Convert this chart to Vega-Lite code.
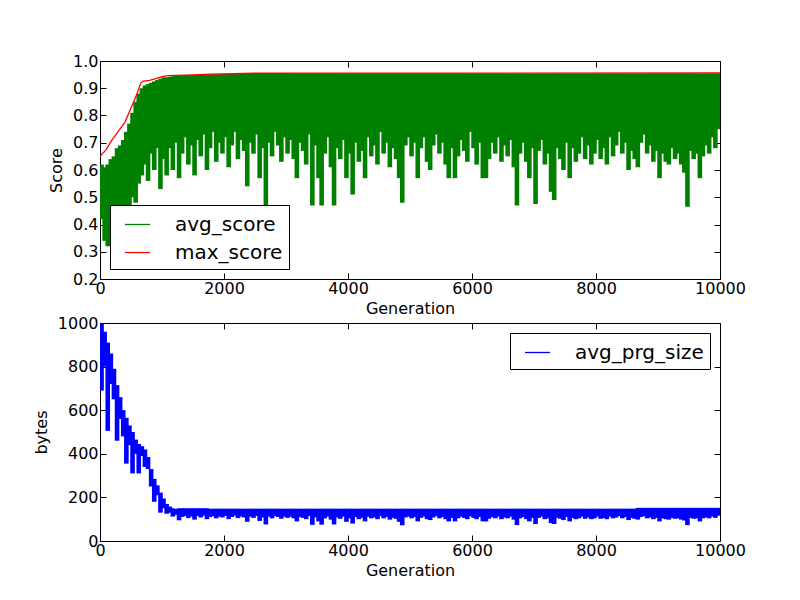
{
"$schema": "https://vega.github.io/schema/vega-lite/v6.json",
"padding": {"left": 32, "top": 52, "right": 0, "bottom": 0},
"background": "white",
"spacing": 44,
"bounds": "flush",
"config": {
  "font": "DejaVu Sans",
  "view": {"stroke": "black", "strokeWidth": 1},
  "axis": {"grid": false, "domain": false, "tickColor": "black", "tickSize": -6, "tickWidth": 1, "labelFont": "DejaVu Sans", "labelFontSize": 16, "labelColor": "black", "labelPadding": 8, "labelFlush": false, "labelOverlap": false, "titleFont": "DejaVu Sans", "titleFontSize": 16, "titleFontWeight": "normal", "titleColor": "black"},
  "axisX": {"labelPadding": 7, "titlePadding": 4},
  "axisY": {"titlePadding": 8},
  "legend": {"strokeColor": "black", "fillColor": "white", "cornerRadius": 0, "padding": 6, "labelFont": "DejaVu Sans", "labelFontSize": 20, "labelColor": "black", "labelOffset": 24, "symbolType": "stroke", "symbolSize": 625, "symbolStrokeWidth": 1.3, "symbolOffset": 8, "rowPadding": 4, "title": null, "offset": 10}
},
"resolve": {"scale": {"x": "independent", "y": "independent", "color": "independent"}, "legend": {"color": "independent"}},
"datasets": {
"d": [
{"g":25,"lo":0.42,"hi":0.62,"pl":690,"ph":995},
{"g":75,"lo":0.34,"hi":0.61,"pl":800,"ph":960},
{"g":125,"lo":0.32,"hi":0.62,"pl":505,"ph":910},
{"g":175,"lo":0.38,"hi":0.64,"pl":720,"ph":860},
{"g":225,"lo":0.36,"hi":0.65,"pl":650,"ph":790},
{"g":275,"lo":0.42,"hi":0.68,"pl":460,"ph":715},
{"g":325,"lo":0.40,"hi":0.69,"pl":560,"ph":660},
{"g":375,"lo":0.45,"hi":0.71,"pl":480,"ph":600},
{"g":425,"lo":0.43,"hi":0.74,"pl":355,"ph":565},
{"g":475,"lo":0.47,"hi":0.77,"pl":440,"ph":530},
{"g":525,"lo":0.50,"hi":0.81,"pl":310,"ph":500},
{"g":575,"lo":0.48,"hi":0.85,"pl":400,"ph":465},
{"g":625,"lo":0.55,"hi":0.88,"pl":310,"ph":445},
{"g":675,"lo":0.58,"hi":0.90,"pl":390,"ph":435},
{"g":725,"lo":0.62,"hi":0.91,"pl":340,"ph":420},
{"g":775,"lo":0.56,"hi":0.915,"pl":330,"ph":385},
{"g":825,"lo":0.66,"hi":0.92,"pl":250,"ph":330},
{"g":875,"lo":0.60,"hi":0.925,"pl":180,"ph":285},
{"g":925,"lo":0.68,"hi":0.93,"pl":210,"ph":255},
{"g":975,"lo":0.53,"hi":0.935,"pl":130,"ph":222},
{"g":1025,"lo":0.64,"hi":0.94,"pl":150,"ph":195},
{"g":1075,"lo":0.58,"hi":0.94,"pl":125,"ph":170},
{"g":1125,"lo":0.68,"hi":0.942,"pl":130,"ph":158},
{"g":1175,"lo":0.60,"hi":0.944,"pl":112,"ph":150},
{"g":1225,"lo":0.70,"hi":0.945,"pl":120,"ph":147},
{"g":1275,"lo":0.57,"hi":0.946,"pl":95,"ph":150},
{"g":1325,"lo":0.66,"hi":0.947,"pl":110,"ph":150},
{"g":1375,"lo":0.72,"hi":0.948,"pl":115,"ph":150},
{"g":1425,"lo":0.62,"hi":0.948,"pl":105,"ph":150},
{"g":1475,"lo":0.69,"hi":0.948,"pl":112,"ph":150},
{"g":1525,"lo":0.58,"hi":0.949,"pl":98,"ph":150},
{"g":1575,"lo":0.71,"hi":0.949,"pl":115,"ph":150},
{"g":1625,"lo":0.65,"hi":0.95,"pl":108,"ph":150},
{"g":1675,"lo":0.73,"hi":0.95,"pl":116,"ph":150},
{"g":1725,"lo":0.60,"hi":0.95,"pl":100,"ph":150},
{"g":1775,"lo":0.68,"hi":0.951,"pl":110,"ph":148},
{"g":1825,"lo":0.74,"hi":0.951,"pl":114,"ph":148},
{"g":1875,"lo":0.63,"hi":0.951,"pl":104,"ph":148},
{"g":1925,"lo":0.70,"hi":0.952,"pl":112,"ph":148},
{"g":1975,"lo":0.66,"hi":0.952,"pl":108,"ph":148},
{"g":2025,"lo":0.72,"hi":0.952,"pl":115,"ph":148},
{"g":2075,"lo":0.61,"hi":0.952,"pl":100,"ph":148},
{"g":2125,"lo":0.69,"hi":0.953,"pl":110,"ph":148},
{"g":2175,"lo":0.74,"hi":0.953,"pl":116,"ph":148},
{"g":2225,"lo":0.64,"hi":0.953,"pl":105,"ph":148},
{"g":2275,"lo":0.71,"hi":0.953,"pl":112,"ph":148},
{"g":2325,"lo":0.67,"hi":0.953,"pl":108,"ph":148},
{"g":2375,"lo":0.54,"hi":0.953,"pl":88,"ph":148},
{"g":2425,"lo":0.70,"hi":0.954,"pl":112,"ph":148},
{"g":2475,"lo":0.66,"hi":0.954,"pl":106,"ph":148},
{"g":2525,"lo":0.73,"hi":0.954,"pl":115,"ph":148},
{"g":2575,"lo":0.57,"hi":0.954,"pl":92,"ph":148},
{"g":2625,"lo":0.68,"hi":0.954,"pl":108,"ph":148},
{"g":2675,"lo":0.47,"hi":0.954,"pl":76,"ph":148},
{"g":2725,"lo":0.70,"hi":0.954,"pl":112,"ph":148},
{"g":2775,"lo":0.65,"hi":0.954,"pl":104,"ph":148},
{"g":2825,"lo":0.74,"hi":0.954,"pl":114,"ph":148},
{"g":2875,"lo":0.69,"hi":0.954,"pl":110,"ph":148},
{"g":2925,"lo":0.63,"hi":0.954,"pl":102,"ph":148},
{"g":2975,"lo":0.72,"hi":0.954,"pl":112,"ph":148},
{"g":3025,"lo":0.66,"hi":0.954,"pl":106,"ph":148},
{"g":3075,"lo":0.71,"hi":0.954,"pl":112,"ph":148},
{"g":3125,"lo":0.64,"hi":0.954,"pl":104,"ph":148},
{"g":3175,"lo":0.57,"hi":0.954,"pl":90,"ph":148},
{"g":3225,"lo":0.70,"hi":0.954,"pl":110,"ph":148},
{"g":3275,"lo":0.67,"hi":0.954,"pl":106,"ph":148},
{"g":3325,"lo":0.62,"hi":0.954,"pl":100,"ph":148},
{"g":3375,"lo":0.73,"hi":0.954,"pl":114,"ph":148},
{"g":3425,"lo":0.47,"hi":0.954,"pl":74,"ph":148},
{"g":3475,"lo":0.69,"hi":0.954,"pl":108,"ph":148},
{"g":3525,"lo":0.57,"hi":0.954,"pl":90,"ph":148},
{"g":3575,"lo":0.47,"hi":0.954,"pl":75,"ph":148},
{"g":3625,"lo":0.66,"hi":0.954,"pl":104,"ph":148},
{"g":3675,"lo":0.72,"hi":0.954,"pl":112,"ph":148},
{"g":3725,"lo":0.61,"hi":0.954,"pl":98,"ph":148},
{"g":3775,"lo":0.47,"hi":0.954,"pl":76,"ph":148},
{"g":3825,"lo":0.68,"hi":0.954,"pl":108,"ph":148},
{"g":3875,"lo":0.64,"hi":0.954,"pl":102,"ph":148},
{"g":3925,"lo":0.71,"hi":0.954,"pl":112,"ph":148},
{"g":3975,"lo":0.57,"hi":0.954,"pl":88,"ph":148},
{"g":4025,"lo":0.66,"hi":0.954,"pl":104,"ph":148},
{"g":4075,"lo":0.51,"hi":0.954,"pl":80,"ph":148},
{"g":4125,"lo":0.70,"hi":0.954,"pl":110,"ph":148},
{"g":4175,"lo":0.63,"hi":0.954,"pl":100,"ph":148},
{"g":4225,"lo":0.67,"hi":0.954,"pl":106,"ph":148},
{"g":4275,"lo":0.57,"hi":0.954,"pl":90,"ph":148},
{"g":4325,"lo":0.72,"hi":0.954,"pl":112,"ph":148},
{"g":4375,"lo":0.65,"hi":0.954,"pl":104,"ph":148},
{"g":4425,"lo":0.69,"hi":0.954,"pl":108,"ph":148},
{"g":4475,"lo":0.62,"hi":0.954,"pl":100,"ph":148},
{"g":4525,"lo":0.74,"hi":0.954,"pl":114,"ph":148},
{"g":4575,"lo":0.66,"hi":0.954,"pl":104,"ph":148},
{"g":4625,"lo":0.70,"hi":0.954,"pl":110,"ph":148},
{"g":4675,"lo":0.61,"hi":0.954,"pl":98,"ph":148},
{"g":4725,"lo":0.68,"hi":0.954,"pl":106,"ph":148},
{"g":4775,"lo":0.64,"hi":0.954,"pl":102,"ph":148},
{"g":4825,"lo":0.57,"hi":0.954,"pl":88,"ph":148},
{"g":4875,"lo":0.48,"hi":0.954,"pl":72,"ph":148},
{"g":4925,"lo":0.69,"hi":0.954,"pl":108,"ph":148},
{"g":4975,"lo":0.72,"hi":0.954,"pl":112,"ph":148},
{"g":5025,"lo":0.65,"hi":0.954,"pl":104,"ph":148},
{"g":5075,"lo":0.70,"hi":0.954,"pl":110,"ph":148},
{"g":5125,"lo":0.57,"hi":0.954,"pl":90,"ph":148},
{"g":5175,"lo":0.68,"hi":0.954,"pl":106,"ph":148},
{"g":5225,"lo":0.72,"hi":0.954,"pl":112,"ph":148},
{"g":5275,"lo":0.63,"hi":0.954,"pl":100,"ph":148},
{"g":5325,"lo":0.60,"hi":0.954,"pl":96,"ph":148},
{"g":5375,"lo":0.69,"hi":0.954,"pl":108,"ph":148},
{"g":5425,"lo":0.73,"hi":0.954,"pl":114,"ph":148},
{"g":5475,"lo":0.66,"hi":0.954,"pl":104,"ph":148},
{"g":5525,"lo":0.70,"hi":0.954,"pl":110,"ph":148},
{"g":5575,"lo":0.62,"hi":0.954,"pl":100,"ph":148},
{"g":5625,"lo":0.57,"hi":0.954,"pl":90,"ph":148},
{"g":5675,"lo":0.68,"hi":0.954,"pl":106,"ph":148},
{"g":5725,"lo":0.57,"hi":0.954,"pl":90,"ph":148},
{"g":5775,"lo":0.65,"hi":0.954,"pl":104,"ph":148},
{"g":5825,"lo":0.71,"hi":0.954,"pl":112,"ph":148},
{"g":5875,"lo":0.67,"hi":0.954,"pl":106,"ph":148},
{"g":5925,"lo":0.63,"hi":0.954,"pl":100,"ph":148},
{"g":5975,"lo":0.74,"hi":0.954,"pl":114,"ph":148},
{"g":6025,"lo":0.68,"hi":0.954,"pl":106,"ph":148},
{"g":6075,"lo":0.62,"hi":0.954,"pl":100,"ph":148},
{"g":6125,"lo":0.70,"hi":0.954,"pl":110,"ph":148},
{"g":6175,"lo":0.57,"hi":0.954,"pl":90,"ph":148},
{"g":6225,"lo":0.57,"hi":0.954,"pl":90,"ph":148},
{"g":6275,"lo":0.64,"hi":0.954,"pl":102,"ph":148},
{"g":6325,"lo":0.70,"hi":0.954,"pl":110,"ph":148},
{"g":6375,"lo":0.66,"hi":0.954,"pl":104,"ph":148},
{"g":6425,"lo":0.72,"hi":0.954,"pl":112,"ph":148},
{"g":6475,"lo":0.63,"hi":0.954,"pl":100,"ph":148},
{"g":6525,"lo":0.69,"hi":0.954,"pl":108,"ph":148},
{"g":6575,"lo":0.65,"hi":0.954,"pl":104,"ph":148},
{"g":6625,"lo":0.71,"hi":0.954,"pl":112,"ph":148},
{"g":6675,"lo":0.61,"hi":0.954,"pl":98,"ph":148},
{"g":6725,"lo":0.47,"hi":0.954,"pl":73,"ph":148},
{"g":6775,"lo":0.66,"hi":0.954,"pl":104,"ph":148},
{"g":6825,"lo":0.70,"hi":0.954,"pl":110,"ph":148},
{"g":6875,"lo":0.63,"hi":0.954,"pl":100,"ph":148},
{"g":6925,"lo":0.57,"hi":0.954,"pl":90,"ph":148},
{"g":6975,"lo":0.68,"hi":0.954,"pl":106,"ph":148},
{"g":7025,"lo":0.475,"hi":0.954,"pl":78,"ph":148},
{"g":7075,"lo":0.67,"hi":0.954,"pl":106,"ph":148},
{"g":7125,"lo":0.71,"hi":0.954,"pl":112,"ph":148},
{"g":7175,"lo":0.62,"hi":0.954,"pl":100,"ph":148},
{"g":7225,"lo":0.66,"hi":0.954,"pl":104,"ph":148},
{"g":7275,"lo":0.52,"hi":0.954,"pl":82,"ph":148},
{"g":7325,"lo":0.49,"hi":0.954,"pl":78,"ph":148},
{"g":7375,"lo":0.68,"hi":0.954,"pl":106,"ph":148},
{"g":7425,"lo":0.64,"hi":0.954,"pl":102,"ph":148},
{"g":7475,"lo":0.60,"hi":0.954,"pl":96,"ph":148},
{"g":7525,"lo":0.70,"hi":0.954,"pl":110,"ph":148},
{"g":7575,"lo":0.57,"hi":0.954,"pl":90,"ph":148},
{"g":7625,"lo":0.68,"hi":0.954,"pl":106,"ph":148},
{"g":7675,"lo":0.63,"hi":0.954,"pl":100,"ph":148},
{"g":7725,"lo":0.66,"hi":0.954,"pl":104,"ph":148},
{"g":7775,"lo":0.72,"hi":0.954,"pl":112,"ph":148},
{"g":7825,"lo":0.64,"hi":0.954,"pl":102,"ph":148},
{"g":7875,"lo":0.69,"hi":0.954,"pl":108,"ph":148},
{"g":7925,"lo":0.62,"hi":0.954,"pl":100,"ph":148},
{"g":7975,"lo":0.66,"hi":0.954,"pl":104,"ph":148},
{"g":8025,"lo":0.71,"hi":0.954,"pl":112,"ph":148},
{"g":8075,"lo":0.64,"hi":0.954,"pl":102,"ph":148},
{"g":8125,"lo":0.68,"hi":0.954,"pl":106,"ph":148},
{"g":8175,"lo":0.62,"hi":0.954,"pl":100,"ph":148},
{"g":8225,"lo":0.72,"hi":0.954,"pl":112,"ph":148},
{"g":8275,"lo":0.65,"hi":0.954,"pl":104,"ph":148},
{"g":8325,"lo":0.69,"hi":0.954,"pl":108,"ph":148},
{"g":8375,"lo":0.74,"hi":0.954,"pl":114,"ph":148},
{"g":8425,"lo":0.66,"hi":0.954,"pl":104,"ph":148},
{"g":8475,"lo":0.70,"hi":0.954,"pl":110,"ph":148},
{"g":8525,"lo":0.60,"hi":0.954,"pl":96,"ph":148},
{"g":8575,"lo":0.67,"hi":0.954,"pl":106,"ph":148},
{"g":8625,"lo":0.64,"hi":0.954,"pl":102,"ph":148},
{"g":8675,"lo":0.61,"hi":0.954,"pl":98,"ph":152},
{"g":8725,"lo":0.70,"hi":0.954,"pl":110,"ph":152},
{"g":8775,"lo":0.73,"hi":0.954,"pl":114,"ph":152},
{"g":8825,"lo":0.66,"hi":0.954,"pl":104,"ph":152},
{"g":8875,"lo":0.69,"hi":0.954,"pl":108,"ph":152},
{"g":8925,"lo":0.63,"hi":0.954,"pl":100,"ph":152},
{"g":8975,"lo":0.67,"hi":0.954,"pl":106,"ph":152},
{"g":9025,"lo":0.57,"hi":0.954,"pl":90,"ph":152},
{"g":9075,"lo":0.66,"hi":0.954,"pl":104,"ph":152},
{"g":9125,"lo":0.63,"hi":0.954,"pl":100,"ph":152},
{"g":9175,"lo":0.62,"hi":0.954,"pl":98,"ph":152},
{"g":9225,"lo":0.68,"hi":0.954,"pl":106,"ph":152},
{"g":9275,"lo":0.64,"hi":0.954,"pl":102,"ph":152},
{"g":9325,"lo":0.66,"hi":0.954,"pl":104,"ph":152},
{"g":9375,"lo":0.62,"hi":0.954,"pl":98,"ph":152},
{"g":9425,"lo":0.59,"hi":0.954,"pl":94,"ph":152},
{"g":9475,"lo":0.465,"hi":0.954,"pl":73,"ph":152},
{"g":9525,"lo":0.67,"hi":0.954,"pl":106,"ph":152},
{"g":9575,"lo":0.64,"hi":0.954,"pl":102,"ph":152},
{"g":9625,"lo":0.66,"hi":0.954,"pl":104,"ph":152},
{"g":9675,"lo":0.57,"hi":0.954,"pl":90,"ph":152},
{"g":9725,"lo":0.65,"hi":0.954,"pl":104,"ph":152},
{"g":9775,"lo":0.69,"hi":0.954,"pl":108,"ph":152},
{"g":9825,"lo":0.66,"hi":0.954,"pl":104,"ph":152},
{"g":9875,"lo":0.72,"hi":0.954,"pl":112,"ph":152},
{"g":9925,"lo":0.68,"hi":0.954,"pl":106,"ph":152},
{"g":9975,"lo":0.75,"hi":0.954,"pl":116,"ph":152}
],
"mx": [
{"g":0,"m":0.65},{"g":100,"m":0.675},{"g":180,"m":0.706},{"g":250,"m":0.728},{"g":320,"m":0.75},{"g":400,"m":0.774},{"g":480,"m":0.817},{"g":560,"m":0.859},{"g":620,"m":0.895},{"g":660,"m":0.92},{"g":700,"m":0.926},{"g":800,"m":0.929},{"g":900,"m":0.935},{"g":1000,"m":0.943},{"g":1100,"m":0.946},{"g":1500,"m":0.949},{"g":1800,"m":0.952},{"g":2500,"m":0.955},{"g":10000,"m":0.956}
]
},
"vconcat": [
{
  "width": 620, "height": 218,
  "resolve": {"axis": {"x": "independent", "y": "independent"}},
  "layer": [
    {
      "data": {"name": "d"},
      "mark": {"type": "rule", "strokeWidth": 4.6, "strokeCap": "butt", "clip": true},
      "encoding": {
        "x": {"field": "g", "type": "quantitative", "scale": {"domain": [0, 10000], "nice": false}, "axis": {"title": "Generation", "values": [0, 2000, 4000, 6000, 8000, 10000], "format": "d"}},
        "y": {"field": "lo", "type": "quantitative", "scale": {"domain": [0.2, 1.0], "nice": false, "zero": false}, "axis": {"title": "Score", "values": [0.2, 0.3, 0.4, 0.5, 0.6, 0.7, 0.8, 0.9, 1.0], "format": ".1f"}},
        "y2": {"field": "hi"},
        "color": {"datum": "avg_score", "type": "nominal", "scale": {"domain": ["avg_score", "max_score"], "range": ["#008000", "#ff0000"]}, "legend": {"orient": "bottom-left"}}
      }
    },
    {
      "data": {"name": "mx"},
      "mark": {"type": "line", "strokeWidth": 1.3, "clip": true},
      "encoding": {
        "x": {"field": "g", "type": "quantitative", "axis": {"orient": "top", "labels": false, "title": null, "values": [0, 2000, 4000, 6000, 8000, 10000]}},
        "y": {"field": "m", "type": "quantitative", "axis": {"orient": "right", "labels": false, "title": null, "values": [0.2, 0.3, 0.4, 0.5, 0.6, 0.7, 0.8, 0.9, 1.0]}},
        "color": {"datum": "max_score", "type": "nominal"}
      }
    }
  ]
},
{
  "width": 620, "height": 218,
  "resolve": {"axis": {"x": "independent", "y": "independent"}},
  "layer": [
    {
      "data": {"name": "d"},
      "mark": {"type": "rule", "strokeWidth": 4.6, "strokeCap": "butt", "clip": true},
      "encoding": {
        "x": {"field": "g", "type": "quantitative", "scale": {"domain": [0, 10000], "nice": false}, "axis": {"title": "Generation", "values": [0, 2000, 4000, 6000, 8000, 10000], "format": "d"}},
        "y": {"field": "pl", "type": "quantitative", "scale": {"domain": [0, 1000], "nice": false}, "axis": {"title": "bytes", "values": [0, 200, 400, 600, 800, 1000], "format": "d"}},
        "y2": {"field": "ph"},
        "color": {"datum": "avg_prg_size", "type": "nominal", "scale": {"domain": ["avg_prg_size"], "range": ["#0000ff"]}, "legend": {"orient": "top-right"}}
      }
    },
    {
      "data": {"name": "d"},
      "mark": {"type": "rule", "opacity": 0, "clip": true},
      "encoding": {
        "x": {"field": "g", "type": "quantitative", "axis": {"orient": "top", "labels": false, "title": null, "values": [0, 2000, 4000, 6000, 8000, 10000]}},
        "y": {"field": "pl", "type": "quantitative", "axis": {"orient": "right", "labels": false, "title": null, "values": [0, 200, 400, 600, 800, 1000]}}
      }
    }
  ]
}
]
}
